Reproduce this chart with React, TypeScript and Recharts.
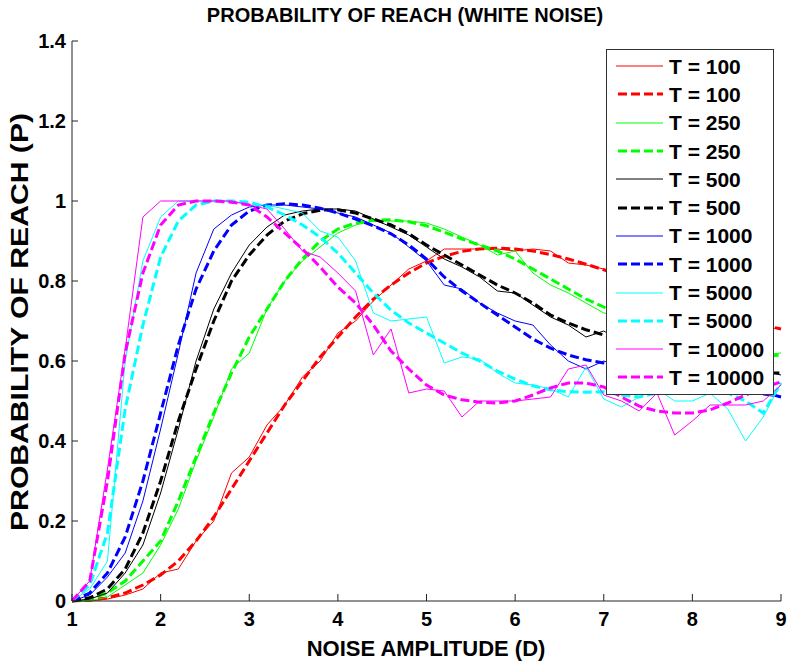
import { LineChart, Line, XAxis, YAxis, Legend, Customized } from "recharts"

const FONT = '"Liberation Sans", Arial, Helvetica, sans-serif'

// plot box in page pixels
const PLOT_LEFT = 72
const PLOT_BOTTOM = 601

const noiseAmp = [1, 1.2, 1.4, 1.6, 1.8, 2, 2.2, 2.4, 2.6, 2.8, 3, 3.2, 3.4, 3.6, 3.8, 4, 4.2, 4.4, 4.6, 4.8, 5, 5.2, 5.4, 5.6, 5.8, 6, 6.2, 6.4, 6.6, 6.8, 7, 7.2, 7.4, 7.6, 7.8, 8, 8.2, 8.4, 8.6, 8.8, 9]

const xTicks = [1, 2, 3, 4, 5, 6, 7, 8, 9]
const yTicks = [0, 0.2, 0.4, 0.6, 0.8, 1, 1.2, 1.4]

// simulated (thin solid) and fitted (thick dashed) curves per T
const sim100 = [0, 0, 0.005, 0.015, 0.03, 0.07, 0.08, 0.15, 0.2, 0.32, 0.36, 0.44, 0.49, 0.56, 0.6, 0.67, 0.7, 0.75, 0.79, 0.83, 0.85, 0.88, 0.88, 0.88, 0.88, 0.875, 0.88, 0.875, 0.845, 0.84, 0.83, 0.82, 0.8, 0.775, 0.77, 0.74, 0.735, 0.71, 0.705, 0.685, 0.68]
const fit100 = [0, 0.002, 0.008, 0.02, 0.04, 0.065, 0.1, 0.15, 0.21, 0.28, 0.35, 0.42, 0.49, 0.55, 0.61, 0.66, 0.71, 0.755, 0.79, 0.82, 0.845, 0.862, 0.874, 0.88, 0.882, 0.88, 0.875, 0.866, 0.855, 0.842, 0.828, 0.813, 0.797, 0.78, 0.763, 0.746, 0.73, 0.715, 0.702, 0.69, 0.68]
const sim250 = [0, 0, 0.01, 0.04, 0.07, 0.14, 0.23, 0.35, 0.46, 0.58, 0.62, 0.73, 0.8, 0.85, 0.885, 0.92, 0.94, 0.95, 0.95, 0.95, 0.945, 0.93, 0.91, 0.89, 0.865, 0.875, 0.82, 0.79, 0.77, 0.745, 0.72, 0.715, 0.685, 0.67, 0.65, 0.645, 0.625, 0.62, 0.61, 0.615, 0.62]
const fit250 = [0, 0.005, 0.02, 0.05, 0.1, 0.15, 0.25, 0.36, 0.47, 0.57, 0.66, 0.73, 0.8, 0.855, 0.9, 0.93, 0.945, 0.952, 0.953, 0.948, 0.938, 0.922, 0.905, 0.89, 0.875, 0.855, 0.83, 0.805, 0.78, 0.755, 0.735, 0.71, 0.69, 0.67, 0.655, 0.64, 0.63, 0.62, 0.615, 0.612, 0.615]
const sim500 = [0, 0.005, 0.02, 0.07, 0.14, 0.27, 0.43, 0.6, 0.73, 0.82, 0.89, 0.935, 0.965, 0.975, 0.98, 0.98, 0.975, 0.955, 0.935, 0.915, 0.885, 0.855, 0.835, 0.81, 0.775, 0.77, 0.74, 0.71, 0.69, 0.66, 0.675, 0.65, 0.63, 0.625, 0.6, 0.605, 0.585, 0.585, 0.57, 0.575, 0.565]
const fit500 = [0, 0.008, 0.03, 0.08, 0.17, 0.3, 0.45, 0.58, 0.7, 0.8, 0.865, 0.915, 0.95, 0.968, 0.977, 0.978, 0.97, 0.955, 0.94, 0.918, 0.89, 0.865, 0.84, 0.815, 0.79, 0.77, 0.745, 0.715, 0.695, 0.678, 0.665, 0.65, 0.635, 0.62, 0.61, 0.6, 0.59, 0.58, 0.575, 0.57, 0.57]
const sim1000 = [0, 0.015, 0.06, 0.12, 0.25, 0.43, 0.62, 0.82, 0.93, 0.965, 0.985, 0.99, 0.99, 0.985, 0.98, 0.97, 0.96, 0.94, 0.92, 0.885, 0.85, 0.79, 0.78, 0.745, 0.72, 0.7, 0.69, 0.64, 0.6, 0.58, 0.6, 0.585, 0.585, 0.57, 0.57, 0.555, 0.56, 0.54, 0.54, 0.515, 0.51]
const fit1000 = [0, 0.02, 0.07, 0.16, 0.3, 0.47, 0.64, 0.78, 0.875, 0.94, 0.975, 0.99, 0.993, 0.99, 0.982, 0.97, 0.955, 0.938, 0.918, 0.89, 0.855, 0.81, 0.775, 0.745, 0.715, 0.685, 0.655, 0.632, 0.615, 0.603, 0.595, 0.587, 0.58, 0.573, 0.566, 0.56, 0.553, 0.545, 0.535, 0.522, 0.51]
const sim5000 = [0, 0.03, 0.1, 0.6, 0.85, 0.96, 1, 1, 1, 1, 0.99, 0.99, 0.98, 0.97, 0.925, 0.91, 0.85, 0.72, 0.7, 0.705, 0.71, 0.595, 0.61, 0.605, 0.57, 0.545, 0.54, 0.53, 0.51, 0.585, 0.505, 0.485, 0.51, 0.53, 0.5, 0.5, 0.52, 0.48, 0.4, 0.46, 0.545]
const fit5000 = [0, 0.04, 0.17, 0.48, 0.69, 0.86, 0.95, 0.99, 1, 1, 0.997, 0.985, 0.965, 0.94, 0.91, 0.87, 0.82, 0.77, 0.727, 0.695, 0.67, 0.645, 0.62, 0.6, 0.575, 0.555, 0.538, 0.528, 0.523, 0.522, 0.523, 0.515, 0.51, 0.52, 0.53, 0.535, 0.53, 0.52, 0.5, 0.47, 0.545]
const sim10000 = [0, 0.05, 0.33, 0.63, 0.96, 1, 1, 1, 1, 1, 0.99, 0.98, 0.93, 0.875, 0.86, 0.82, 0.775, 0.615, 0.68, 0.52, 0.53, 0.525, 0.46, 0.5, 0.5, 0.5, 0.505, 0.51, 0.58, 0.59, 0.515, 0.5, 0.475, 0.52, 0.415, 0.45, 0.49, 0.49, 0.49, 0.5, 0.54]
const fit10000 = [0, 0.05, 0.3, 0.62, 0.82, 0.94, 0.99, 1, 1, 0.997, 0.99, 0.96, 0.92, 0.88, 0.835, 0.785, 0.745, 0.69, 0.625, 0.58, 0.54, 0.515, 0.503, 0.497, 0.495, 0.5, 0.515, 0.533, 0.545, 0.545, 0.535, 0.51, 0.487, 0.475, 0.47, 0.47, 0.478, 0.495, 0.515, 0.533, 0.548]

const series = [
  { key: "s100", name: "T = 100", color: "#ff0000", dashed: false, values: sim100 },
  { key: "f100", name: "T = 100", color: "#ff0000", dashed: true, values: fit100 },
  { key: "s250", name: "T = 250", color: "#00ff00", dashed: false, values: sim250 },
  { key: "f250", name: "T = 250", color: "#00ff00", dashed: true, values: fit250 },
  { key: "s500", name: "T = 500", color: "#000000", dashed: false, values: sim500 },
  { key: "f500", name: "T = 500", color: "#000000", dashed: true, values: fit500 },
  { key: "s1000", name: "T = 1000", color: "#0000ff", dashed: false, values: sim1000 },
  { key: "f1000", name: "T = 1000", color: "#0000ff", dashed: true, values: fit1000 },
  { key: "s5000", name: "T = 5000", color: "#00ffff", dashed: false, values: sim5000 },
  { key: "f5000", name: "T = 5000", color: "#00ffff", dashed: true, values: fit5000 },
  { key: "s10000", name: "T = 10000", color: "#ff00ff", dashed: false, values: sim10000 },
  { key: "f10000", name: "T = 10000", color: "#ff00ff", dashed: true, values: fit10000 },
]

const data = noiseAmp.map((x, i) => {
  const row: Record<string, number> = { x }
  series.forEach((s) => (row[s.key] = s.values[i]))
  return row
})

const DASH = "9 4"

function XTick({ x, payload }: any) {
  return (
    <g>
      <line x1={x} x2={x} y1={PLOT_BOTTOM} y2={PLOT_BOTTOM - 7} stroke="#222" />
      <text x={x} y={626} textAnchor="middle" fontFamily={FONT} fontSize={20} fontWeight="bold" fill="#000">
        {payload.value}
      </text>
    </g>
  )
}

function YTick({ y, payload }: any) {
  return (
    <g>
      <line x1={PLOT_LEFT} x2={PLOT_LEFT + 6} y1={y} y2={y} stroke="#222" />
      <text x={PLOT_LEFT - 6} y={y + 7} textAnchor="end" fontFamily={FONT} fontSize={20} fontWeight="bold" fill="#000">
        {payload.value}
      </text>
    </g>
  )
}

function LegendBox() {
  return (
    <div
      style={{
        width: 166,
        height: 342,
        border: "1px solid #333",
        background: "#fff",
        paddingTop: 2,
        boxSizing: "content-box",
      }}
    >
      {series.map((s) => (
        <div key={s.key} style={{ height: 28.3, display: "flex", alignItems: "center" }}>
          <svg width={62} height={20} style={{ flex: "none" }}>
            <line
              x1={s.dashed ? 11 : 9}
              x2={56}
              y1={10}
              y2={10}
              stroke={s.color}
              strokeWidth={s.dashed ? 3 : 1}
              strokeDasharray={s.dashed ? DASH : undefined}
            />
          </svg>
          <span style={{ fontFamily: FONT, fontSize: 21, fontWeight: "bold", color: "#000", lineHeight: 1 }}>
            {s.name}
          </span>
        </div>
      ))}
    </div>
  )
}

function Labels() {
  return (
    <g fontFamily={FONT} fontWeight="bold" fill="#000">
      <text x={405} y={22} textAnchor="middle" fontSize={20}>
        PROBABILITY OF REACH (WHITE NOISE)
      </text>
      <text x={426} y={656} textAnchor="middle" fontSize={22}>
        NOISE AMPLITUDE (D)
      </text>
      <text
        x={0}
        y={0}
        transform="translate(28, 322) rotate(-90)"
        textAnchor="middle"
        fontSize={23}
        textLength={418}
        lengthAdjust="spacingAndGlyphs"
      >
        PROBABILITY OF REACH (P)
      </text>
    </g>
  )
}

export default function App() {
  return (
    <div>
      <style>{"body{margin:0;background:#fff}"}</style>
      <LineChart width={796} height={662} data={data} margin={{ top: 41, right: 15, bottom: 0, left: 0 }}>
        <XAxis
          dataKey="x"
          type="number"
          domain={[1, 9]}
          ticks={xTicks}
          height={61}
          axisLine={{ stroke: "#222" }}
          tickLine={false}
          tick={<XTick />}
          interval={0}
        />
        <YAxis
          type="number"
          domain={[0, 1.4]}
          ticks={yTicks}
          width={72}
          axisLine={{ stroke: "#222" }}
          tickLine={false}
          tick={<YTick />}
          interval={0}
        />
        {series.map((s) => (
          <Line
            key={s.key}
            dataKey={s.key}
            name={s.name}
            type="linear"
            stroke={s.color}
            strokeWidth={s.dashed ? 3 : 1}
            strokeDasharray={s.dashed ? DASH : undefined}
            dot={false}
            activeDot={false}
            isAnimationActive={false}
          />
        ))}
        <Legend
          layout="horizontal"
          verticalAlign="middle"
          align="center"
          content={<LegendBox />}
          wrapperStyle={{ left: 606, top: 49, width: 168, height: 346 }}
        />
        <Customized component={<Labels />} />
      </LineChart>
    </div>
  )
}
